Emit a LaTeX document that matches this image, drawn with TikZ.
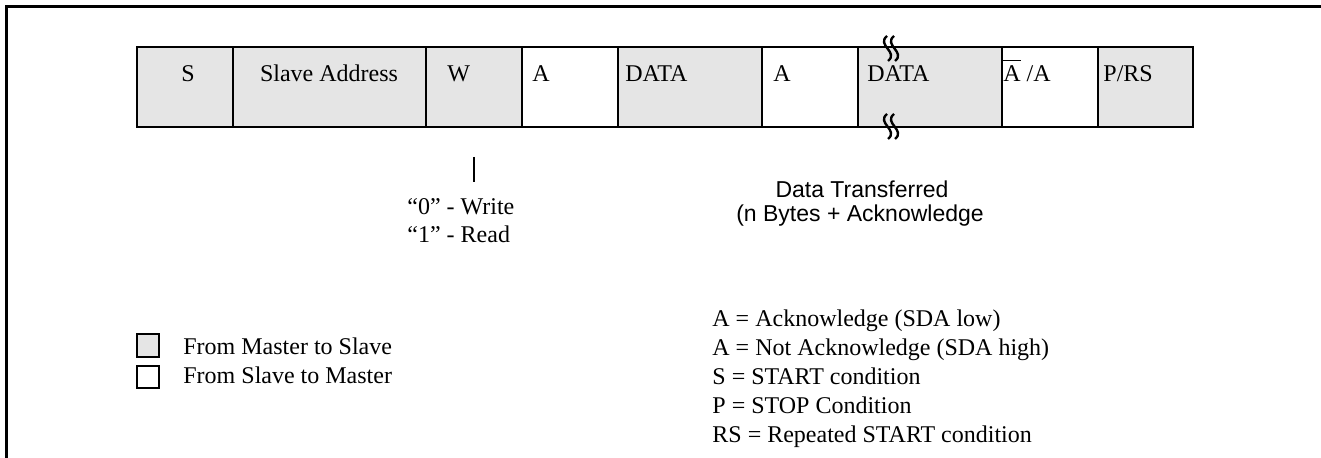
\documentclass[tikz,border=0pt]{standalone}
\usepackage{fontspec}
\setmainfont{Liberation Serif}
\newfontfamily\arialfont{Liberation Sans}

\definecolor{mgray}{HTML}{E5E5E5}

\begin{document}
\begin{tikzpicture}[x=0.5pt, y=-0.5pt,
    lbl/.style={inner sep=0pt, font=\fontsize{12}{14}\selectfont},
    sans/.style={inner sep=0pt, font=\arialfont\fontsize{11.5}{13}\selectfont},
    cellline/.style={line width=1.3pt}]

    \useasboundingbox (0,0) rectangle (1321,458);

    \pgfmathsetmacro{\ytop}{47}
    \pgfmathsetmacro{\ybot}{127}
    \pgfmathsetmacro{\ybase}{82}

    % 外枠
    \draw[line width=1.5pt] (6,458) -- (6,7) -- (1321,7);

    % フレームのセル
    \foreach \xl/\xr/\col in {137/233/mgray, 233/426/mgray, 426/522/mgray,
        522/618/white, 618/762/mgray, 762/858/white, 858/1002/mgray,
        1002/1098/white, 1098/1193/mgray} {
        \filldraw[cellline, fill=\col] (\xl,\ytop) rectangle (\xr,\ybot);
    }

    % セルの文字
    \node[lbl, anchor=base] (s) at (188,\ybase) {S};
    \node[lbl, anchor=base] (addr) at (329,\ybase) {Slave Address};
    \node[lbl, anchor=base west] (w) at (447,\ybase) {W};
    \node[lbl, anchor=base west] (ack1) at (532,\ybase) {A};
    \node[lbl, anchor=base west] (data1) at (625,\ybase) {DATA};
    \node[lbl, anchor=base west] (ack2) at (773,\ybase) {A};
    \node[lbl, anchor=base west] (data2) at (867,\ybase) {DATA};
    \node[lbl, anchor=base west] (nack) at (1003,\ybase)
        {\makebox[0pt][l]{\rule[0.87em]{0.72em}{0.7pt}}A /A};
    \node[lbl, anchor=base west] (stop) at (1103,\ybase) {P/RS};

    % 省略記号（波線）
    \foreach \yb in {36,114} {
        \foreach \xw in {887,894} {
            \draw[line width=1.2pt] (\xw,\yb) .. controls (\xw-11,\yb+9)
                and (\xw+12,\yb+16) .. (\xw+1,\yb+25);
        }
    }

    % R/W ビット
    \coordinate (rwtop) at (474,157);
    \coordinate (rwbot) at (474,182);
    \draw[line width=1.1pt] (rwtop) -- (rwbot);
    \node[lbl, anchor=base west] (rw0) at (407,215) {“0” - Write};
    \node[lbl, anchor=base west] (rw1) at (407,243) {“1” - Read};

    % 転送データ
    \node[sans, anchor=base] (dt1) at (862,198) {Data Transferred};
    \node[sans, anchor=base] (dt2) at (860,222) {(n Bytes + Acknowledge};

    % 凡例
    \filldraw[cellline, fill=mgray] (137,334) rectangle (159,357);
    \draw[cellline] (137,366) rectangle (159,388);
    \node[lbl, anchor=base west] (m2s) at (183,355) {From Master to Slave};
    \node[lbl, anchor=base west] (s2m) at (183,384) {From Slave to Master};

    \foreach \i/\t in {0/{A = Acknowledge (SDA low)},
        1/{A = Not Acknowledge (SDA high)}, 2/{S = START condition},
        3/{P = STOP Condition}, 4/{RS = Repeated START condition}} {
        \node[lbl, anchor=base west] (def\i) at (712,{327+29*\i}) {\t};
    }

\end{tikzpicture}
\end{document}
